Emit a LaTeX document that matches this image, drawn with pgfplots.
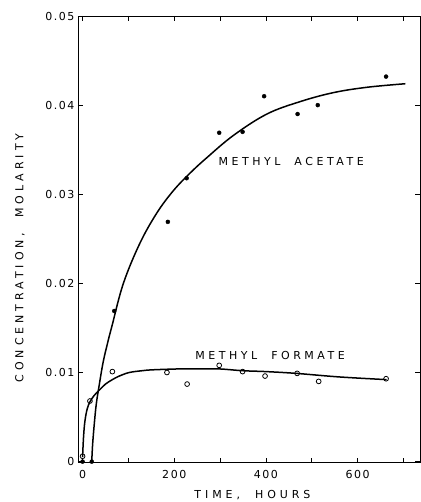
\documentclass[border=0pt]{standalone}
\usepackage{fontspec}
\setmainfont{DejaVu Sans}
\newfontfamily\tickfont[LetterSpace=14]{DejaVu Sans}
\newfontfamily\lblfont[LetterSpace=32]{DejaVu Sans}
\newfontfamily\axlblfont[LetterSpace=36]{DejaVu Sans}
\usepackage{pgfplots}
\pgfplotsset{compat=1.18}
\begin{document}
\begin{tikzpicture}
\begin{axis}[
  scale only axis, width=342pt, height=446.5pt,
  xmin=-10, xmax=736, ymin=-0.0001, ymax=0.05,
  clip=false,
  axis line style={line width=0.9pt},
  tick style={line width=0.8pt, black},
  major tick length=5pt,
  tick align=inside,
  xtick={0,100,200,300,400,500,600,700},
  xticklabels={0,,200,,400,,600,},
  ytick={0,0.01,0.02,0.03,0.04,0.05},
  yticklabels={{0\hspace{11pt}},0.01,0.02,0.03,0.04,0.05},
  scaled ticks=false,
  xticklabel style={font=\tickfont\fontsize{11}{13}\selectfont, yshift=-4pt},
  yticklabel style={font=\tickfont\fontsize{11}{13}\selectfont},
  xlabel={TIME,\ \ HOURS},
  ylabel={CONCENTRATION,\ \ MOLARITY},
  xlabel style={font=\axlblfont\fontsize{11}{13}\selectfont, at={(axis description cs:0.51,0)}, anchor=center, yshift=-33pt},
  ylabel style={font=\axlblfont\fontsize{11}{13}\selectfont, at={(axis description cs:-0.17,0.458)}, anchor=center},
]
% Methyl acetate fitted curve
\addplot[black, line width=1.5pt, smooth, tension=0.6] coordinates {
  (20,0) (22,0.002) (26,0.0045) (30,0.0065) (36,0.0085) (45,0.0112)
  (55,0.0134) (64,0.0152) (89,0.0200) (125,0.0245) (162,0.0279)
  (198,0.0304) (235,0.0324) (271,0.0341) (329,0.0366) (402,0.0390)
  (475,0.0404) (547,0.0414) (620,0.0420) (704,0.0424)
};
% Methyl formate fitted curve
\addplot[black, line width=1.5pt, smooth, tension=0.6] coordinates {
  (0,0.0005) (2,0.0027) (5,0.0045) (10,0.0059) (16,0.0067) (25,0.0074)
  (36,0.0080) (50,0.0087) (65,0.0092) (80,0.0096) (102,0.0100)
  (130,0.0102) (153,0.0103) (211,0.0104) (255,0.0104) (298,0.0104)
  (349,0.0102) (400,0.0101) (466,0.0099) (560,0.0095) (663,0.0092)
};
% Methyl acetate data
\addplot[only marks, mark=*, mark size=2pt, black] coordinates {
  (0,0) (20,0) (69,0.0169) (186,0.0269) (227,0.0318) (298,0.0369)
  (349,0.0370) (396,0.0410) (469,0.0390) (513,0.0400) (662,0.0432)
};
% Methyl formate data
\addplot[only marks, mark=o, mark size=2.4pt, black, line width=0.8pt, mark options={fill=white}] coordinates {
  (0,0.0006) (16,0.0068) (65,0.0101) (184,0.0100) (228,0.0087) (298,0.0108)
  (349,0.0101) (398,0.0096) (468,0.0099) (515,0.0090) (662,0.0093)
};
\node[font=\lblfont\fontsize{11}{13}\selectfont, anchor=center] at (axis cs:455,0.0337) {METHYL\ \ ACETATE};
\node[font=\lblfont\fontsize{11}{13}\selectfont, anchor=center] at (axis cs:409,0.0119) {METHYL\ \ FORMATE};
\end{axis}
\pgfresetboundingbox
\path[use as bounding box] ([shift={(-78pt,-39.5pt)}]current axis.south west) rectangle ([shift={(1pt,16pt)}]current axis.north east);
\end{tikzpicture}
\end{document}
